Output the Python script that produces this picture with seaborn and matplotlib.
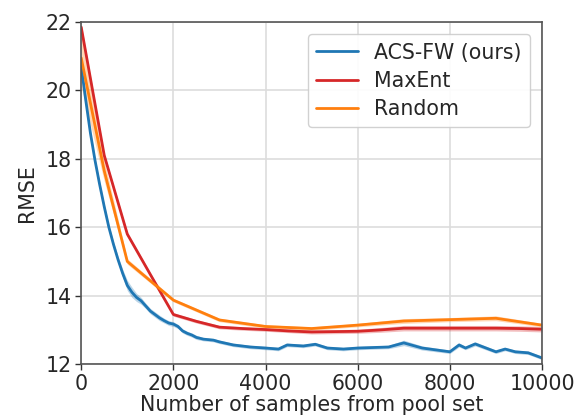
import numpy as np
import pandas as pd
import matplotlib
matplotlib.use("Agg")
import matplotlib.pyplot as plt
import seaborn as sns

# ---- data ----
acs_x = [0, 100, 200, 300, 400, 500, 600, 700, 800, 900, 1000, 1100, 1200, 1300, 1400,
         1500, 1600, 1700, 1800, 1900, 2000, 2100, 2200, 2300, 2400, 2500, 2650, 2870,
         3000, 3300, 3670, 4000, 4280, 4470, 4820, 5080, 5340, 5690, 6000, 6670, 7000,
         7400, 8000, 8200, 8340, 8550, 9000, 9200, 9420, 9700, 10000]
acs_y = [20.7, 19.7, 18.75, 17.95, 17.25, 16.6, 16.0, 15.5, 15.05, 14.65, 14.3, 14.1,
         13.95, 13.85, 13.7, 13.55, 13.45, 13.35, 13.27, 13.2, 13.17, 13.1, 12.97, 12.9,
         12.85, 12.78, 12.73, 12.70, 12.65, 12.56, 12.5, 12.47, 12.44, 12.56, 12.53,
         12.58, 12.47, 12.44, 12.47, 12.5, 12.62, 12.47, 12.36, 12.56, 12.47, 12.59,
         12.36, 12.44, 12.36, 12.33, 12.18]
acs_err = [0.15, 0.1, 0.08, 0.08, 0.08, 0.08, 0.08, 0.08, 0.1, 0.12, 0.15, 0.15,
           0.12, 0.1, 0.08, 0.08, 0.08, 0.08, 0.07, 0.07, 0.07, 0.06, 0.06, 0.06,
           0.06, 0.06, 0.05, 0.05, 0.05, 0.05, 0.05, 0.05, 0.05, 0.05, 0.05,
           0.05, 0.05, 0.05, 0.05, 0.05, 0.08, 0.06, 0.05, 0.06, 0.05, 0.06,
           0.05, 0.05, 0.05, 0.05, 0.05]

maxent_x = [0, 500, 1000, 1500, 2000, 2500, 3000, 3500, 4000, 4500, 5000, 5500, 6000,
            6500, 7000, 7500, 8000, 8500, 9000, 9500, 10000]
maxent_y = [21.85, 18.1, 15.8, 14.62, 13.45, 13.25, 13.08, 13.04, 13.01, 12.97, 12.94,
            12.95, 12.96, 13.0, 13.05, 13.05, 13.05, 13.05, 13.05, 13.04, 13.02]
maxent_err = [0.1, 0.06, 0.06, 0.05, 0.05, 0.05, 0.05, 0.05, 0.05, 0.05, 0.06,
              0.06, 0.06, 0.07, 0.08, 0.08, 0.08, 0.08, 0.08, 0.08, 0.08]

random_x = [0, 500, 1000, 2000, 3000, 4000, 5000, 6000, 7000, 8000, 9000, 10000]
random_y = [20.95, 17.65, 15.0, 13.87, 13.29, 13.1, 13.04, 13.14, 13.26, 13.3, 13.34, 13.14]
random_err = [0.85, 0.3, 0.08, 0.05, 0.05, 0.05, 0.05, 0.05, 0.07, 0.06, 0.07, 0.05]

labels = ["ACS-FW (ours)", "MaxEnt", "Random"]
colors = ["#1f77b4", "#d62728", "#ff7f0e"]

x_ticks = [0, 2000, 4000, 6000, 8000, 10000]
y_ticks = [12, 14, 16, 18, 20, 22]

# ---- plot ----
sns.set_style("whitegrid")
plt.rcParams["font.family"] = ["DejaVu Sans"]
FS = 14.8

fig = plt.figure(figsize=(5.76, 4.19), dpi=100)
ax = fig.add_axes([0.141, 0.131, 0.8, 0.8165])

series = [(acs_x, acs_y, acs_err), (maxent_x, maxent_y, maxent_err),
          (random_x, random_y, random_err)]
for (xs, ys, es), lab, col in zip(series, labels, colors):
    df = pd.DataFrame({"x": xs, "y": ys})
    sns.lineplot(data=df, x="x", y="y", ax=ax, color=col, linewidth=2, label=lab)
    ys_a = np.array(ys)
    es_a = np.array(es)
    ax.fill_between(xs, ys_a - es_a, ys_a + es_a, color=col, alpha=0.3, linewidth=0)

ax.set_xlim(0, 10000)
ax.set_ylim(12, 22)
ax.set_xticks(x_ticks)
ax.set_yticks(y_ticks)
ax.tick_params(axis="both", labelsize=FS, length=4, width=1, colors="#333333",
               labelcolor="#262626", direction="out", bottom=True, left=True, pad=3)
ax.set_xlabel("Number of samples from pool set", fontsize=FS, color="#262626", labelpad=1)
ax.set_ylabel("RMSE", fontsize=FS, color="#262626", labelpad=6)
ax.grid(True, color="#dddddd", linewidth=1.2)
for s in ax.spines.values():
    s.set_color("#555555")
    s.set_linewidth(1.2)

leg = ax.legend(loc="upper right", fontsize=FS, frameon=True, framealpha=0.9,
                edgecolor="#cccccc", handlelength=2.0, labelspacing=0.4,
                borderaxespad=0.6)
for t in leg.get_texts():
    t.set_color("#262626")

fig.savefig("out.png", dpi=100)
